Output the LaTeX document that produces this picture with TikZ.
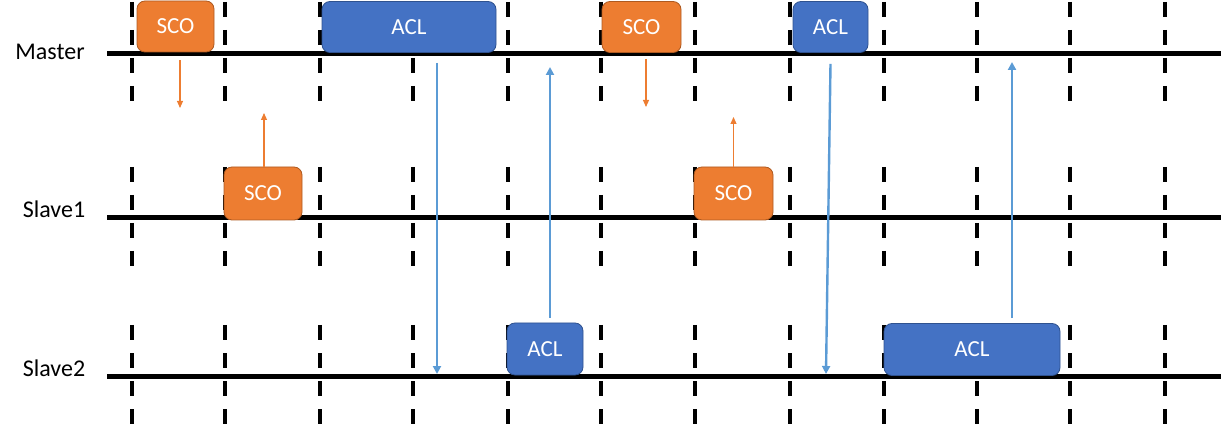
\documentclass[tikz,border=0pt]{standalone}
\usepackage{fontspec}
\setmainfont{Carlito}
\usetikzlibrary{arrows.meta}
\definecolor{scofill}{HTML}{ED7D31}
\definecolor{scoedge}{HTML}{AE5A21}
\definecolor{aclfill}{HTML}{4472C4}
\definecolor{acledge}{HTML}{2F528F}
\definecolor{aclline}{HTML}{5B9BD5}
\begin{document}
\begin{tikzpicture}[x=1pt, y=-1pt,
    slot/.style={line width=4pt, dash pattern=on 15pt off 13pt},
    bus/.style={line width=5pt},
    lbl/.style={anchor=base, font=\fontsize{24}{28}\selectfont},
    pkt/.style={rounded corners=8pt, line width=0.8pt, text=white,
        inner sep=0pt, font=\fontsize{23}{27}\selectfont},
    sco/.style={pkt, fill=scofill, draw=scoedge, minimum height=51pt},
    acl/.style={pkt, fill=aclfill, draw=acledge, minimum height=51pt},
    scoarrow/.style={scofill, line width=1.1pt, -{Triangle[width=6pt,length=7pt]}},
    aclarrow/.style={aclline, line width=2.4pt, -{Triangle[width=8pt,length=8pt]}}]
    \useasboundingbox (0,0) rectangle (1221,430);

    % Slot boundaries
    \foreach \x in {132, 225, 320, 413, 508, 601, 695, 790, 884, 977, 1070, 1165} {
        \draw[slot] (\x,2) -- (\x,102);
        \draw[slot] (\x,167) -- (\x,267);
        \draw[slot] (\x,325) -- (\x,425);
    }

    % Device lines
    \draw[bus] (107,54) -- (1221,54);
    \draw[bus] (107,218) -- (1221,218);
    \draw[bus] (107,376) -- (1221,376);

    % Device labels
    \node[lbl] (master) at (50,60) {Master};
    \node[lbl] (slave1) at (54,218) {Slave1};
    \node[lbl] (slave2) at (54,377) {Slave2};

    % Packets on master
    \node[sco, minimum width=77pt] (scoMa) at (175.5,26.5) {SCO};
    \node[acl, minimum width=174pt] (aclMa) at (409,27) {ACL};
    \node[sco, minimum width=79pt] (scoMb) at (641.5,27) {SCO};
    \node[acl, minimum width=75pt] (aclMb) at (830.5,27) {ACL};

    % Packets on slave1
    \node[sco, minimum width=78pt, minimum height=53pt] (scoSa) at (263,193.5) {SCO};
    \node[sco, minimum width=79pt, minimum height=53pt] (scoSb) at (733.5,193.5) {SCO};

    % Packets on slave2
    \node[acl, minimum width=76pt, minimum height=52pt] (aclSa) at (545,349) {ACL};
    \node[acl, minimum width=176pt, minimum height=52pt] (aclSb) at (972,349.5) {ACL};

    % Arrow ends
    \coordinate (scoDa) at (180,108);
    \coordinate (scoUa) at (264,113);
    \coordinate (scoDb) at (646,107);
    \coordinate (scoUb) at (733.5,117);
    \coordinate (aclDa) at (437,374);
    \coordinate (aclUa) at (550,67);
    \coordinate (aclDb) at (826,374);
    \coordinate (aclUb) at (1012,62);

    % SCO traffic
    \draw[scoarrow] ([xshift=4.5pt,yshift=-8pt]scoMa.south) -- (scoDa);
    \draw[scoarrow] ([xshift=1pt]scoSa.north) -- (scoUa);
    \draw[scoarrow] ([xshift=4.5pt,yshift=-6pt]scoMb.south) -- (scoDb);
    \draw[scoarrow] (scoSb.north) -- (scoUb);

    % ACL traffic
    \draw[aclarrow] ([xshift=28pt,yshift=-10pt]aclMa.south) -- (aclDa);
    \draw[aclarrow] ([xshift=5pt,yshift=5pt]aclSa.north) -- (aclUa);
    \draw[aclarrow] ([yshift=-11pt]aclMb.south) -- (aclDb);
    \draw[aclarrow] ([xshift=40pt,yshift=5pt]aclSb.north) -- (aclUb);
\end{tikzpicture}
\end{document}
